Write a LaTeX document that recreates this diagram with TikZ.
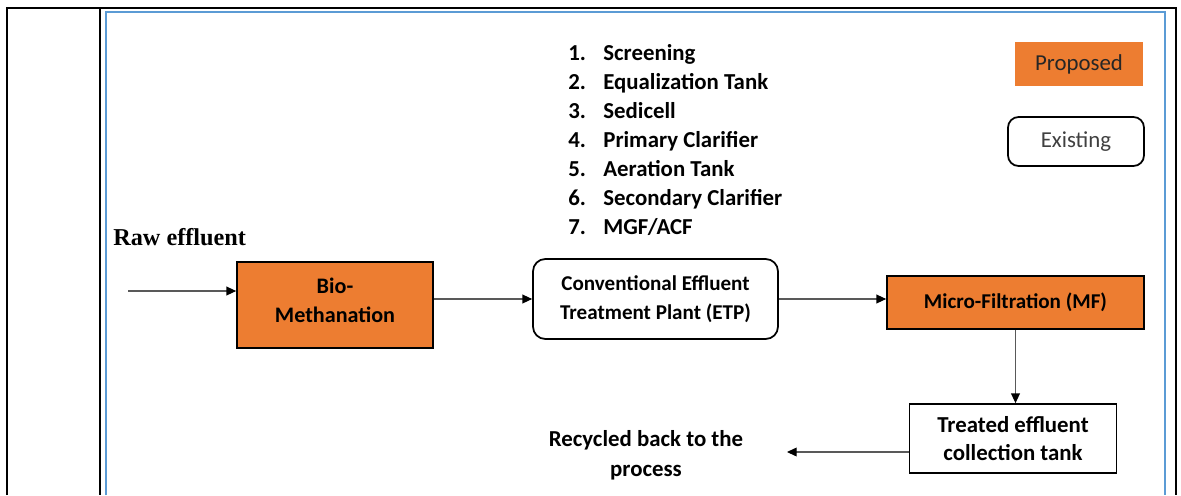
\documentclass[tikz,border=0pt]{standalone}
\usepackage{fontspec}
\setmainfont{Carlito}
\newfontfamily\timesfont{Liberation Serif}
\usetikzlibrary{arrows.meta}
\definecolor{propfill}{HTML}{ED7D31}
\definecolor{frameblue}{HTML}{5B9BD5}

\begin{document}
\begin{tikzpicture}[x=0.02cm,y=-0.02cm,
    boxtext/.style={font=\fontsize{#1}{16.3}\selectfont\bfseries, align=center, text=black, inner sep=0pt},
    boxtext/.default=12,
    proposed/.style={boxtext=#1, draw=black, line width=1pt, fill=propfill}, proposed/.default=12,
    existing/.style={boxtext=#1, draw=black, line width=1pt, fill=white}, existing/.default=12,
    listtext/.style={font=\fontsize{13}{16}\selectfont\bfseries, inner sep=0pt, anchor=base west},
    flow/.style={draw=black!65, line width=0.6pt, -{Triangle[length=5.5pt,width=5pt,color=black]}}]
    \useasboundingbox (0,0) rectangle (1181,495);
    % table and frame
    \draw[line width=1.2pt] (7,495) -- (7,8) -- (1176,8) -- (1176,495); \draw[line width=1.2pt]
    (100,8) -- (100,495); \draw[frameblue, line width=0.9pt] (106,495) -- (106,12) -- (1165,12)
    -- (1165,495);
    % process blocks
    \node[proposed=12.6, minimum width=3.92cm, minimum height=1.72cm] (bio) at (335,305)
    {Bio-\\Methanation\rule[-0.2cm]{0pt}{0pt}}; \node[existing=12, rounded corners=7pt, minimum width=4.9cm, minimum
    height=1.6cm] (etp) at (655.5,299) {Conventional Effluent\\Treatment Plant (ETP)};
    \node[proposed=12, minimum width=5.14cm, minimum height=1.06cm] (mf) at (1015.5,302.5)
    {Micro-Filtration (MF)}; \node[existing=13, minimum width=4.14cm, minimum height=1.38cm]
    (tank) at (1013,438.5) {Treated effluent\\collection tank}; \node[boxtext=13] (recycled) at
    (646,455) {Recycled back to the\\[1pt]process};
    \node[anchor=base west, inner sep=0pt, font=\timesfont\bfseries\fontsize{13.8}{15}\selectfont]
    (raw) at (113,245) {Raw effluent};
    % legend
    \node[fill=propfill, minimum width=2.56cm, minimum height=0.88cm, text=black!85,
    font=\fontsize{13}{14}\selectfont] (legprop) at (1079,64) {Proposed}; \node[draw,
    line width=1pt, rounded corners=6pt, minimum width=2.72cm, minimum height=0.98cm,
    text=black!75, font=\fontsize{13}{14}\selectfont] (legexist) at (1076,141.5) {Existing};
    % ETP units
    \foreach \t [count=\i] in {Screening, Equalization Tank, Sedicell, Primary Clarifier,
      Aeration Tank, Secondary Clarifier, MGF/ACF} { \node[listtext] (num\i) at
      (568,{60+29*(\i-1)}) {\i.}; \node[listtext] (unit\i) at (603,{60+29*(\i-1)}) {\t}; }
    % flow
    \coordinate (rawin) at (128,291); \coordinate (recin) at (787,452);
    \draw[flow] (rawin) -- (rawin -| bio.west); \draw[flow] (bio.east |- etp.west) --
    (etp.west); \draw[flow] (etp.east) -- (etp.east -| mf.west); \draw[flow] (mf.south) --
    (mf.south |- tank.north); \draw[flow] (tank.west |- recin) -- (recin);
  \end{tikzpicture}
\end{document}
